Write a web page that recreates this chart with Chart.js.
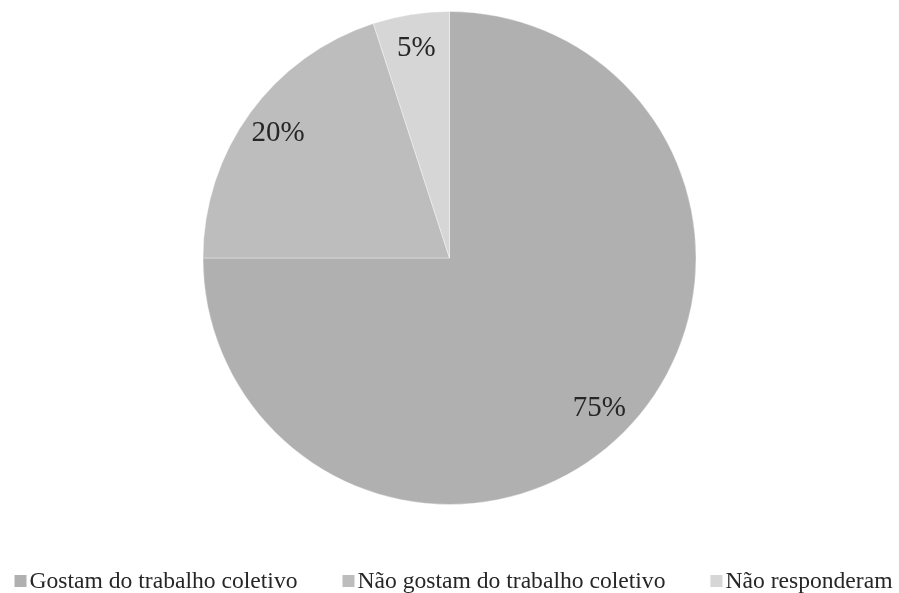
<!DOCTYPE html>
<html>
<head>
<meta charset="utf-8">
<script src="https://cdn.jsdelivr.net/npm/chart.js@4/dist/chart.umd.min.js"></script>
<style>
  html, body { margin: 0; padding: 0; background: #ffffff; }
  #wrap { width: 899px; height: 593px; }
</style>
</head>
<body>
<div id="wrap"><canvas id="chart" width="899" height="593"></canvas></div>
<script>
// Survey answers: do pupils like working in groups?
const categories = ['Gostam do trabalho coletivo', 'Não gostam do trabalho coletivo', 'Não responderam'];
const percentages = [75, 20, 5];
const sliceColors = ['#b0b0b0', '#bdbdbd', '#d6d6d6'];

const SERIF = '"Liberation Serif", "Times New Roman", serif';

// Percentage text inside each slice, placed along the slice's middle angle
const sliceLabels = {
  id: 'sliceLabels',
  afterDatasetsDraw(chart) {
    const ctx = chart.ctx;
    const meta = chart.getDatasetMeta(0);
    ctx.save();
    ctx.font = '29px ' + SERIF;
    ctx.fillStyle = '#262626';
    ctx.textAlign = 'center';
    ctx.textBaseline = 'middle';
    meta.data.forEach((arc, i) => {
      const p = arc.getProps(['x', 'y', 'startAngle', 'endAngle', 'outerRadius'], true);
      const mid = (p.startAngle + p.endAngle) / 2;
      const r = p.outerRadius * 0.86;
      ctx.fillText(percentages[i] + '%', p.x + Math.cos(mid) * r, p.y + Math.sin(mid) * r);
    });
    ctx.restore();
  }
};

// Single-row legend centred under the pie
const bottomLegend = {
  id: 'bottomLegend',
  afterDraw(chart) {
    const ctx = chart.ctx;
    const box = 12, boxGap = 3, itemGap = 45;
    ctx.save();
    ctx.font = '23.6px ' + SERIF;
    const widths = categories.map(t => ctx.measureText(t).width);
    const total = widths.reduce((s, w) => s + box + boxGap + w, 0) + itemGap * (categories.length - 1);
    let x = (chart.width - total) / 2 + 4;
    const yMid = chart.chartArea.bottom + 76;
    ctx.textBaseline = 'middle';
    ctx.textAlign = 'left';
    categories.forEach((t, i) => {
      ctx.fillStyle = sliceColors[i];
      ctx.fillRect(x, yMid - box / 2, box, box);
      x += box + boxGap;
      ctx.fillStyle = '#262626';
      ctx.fillText(t, x, yMid + 1);
      x += widths[i] + itemGap;
    });
    ctx.restore();
  }
};

new Chart(document.getElementById('chart'), {
  type: 'pie',
  data: {
    labels: categories,
    datasets: [{
      data: percentages,
      backgroundColor: sliceColors,
      borderColor: 'rgba(255,255,255,0.35)',
      borderWidth: 1
    }]
  },
  options: {
    responsive: false,
    animation: false,
    events: [],
    layout: { padding: { top: 11, bottom: 88, left: 0, right: 0 } },
    plugins: {
      legend: { display: false },
      tooltip: { enabled: false }
    }
  },
  plugins: [sliceLabels, bottomLegend]
});
</script>
</body>
</html>
